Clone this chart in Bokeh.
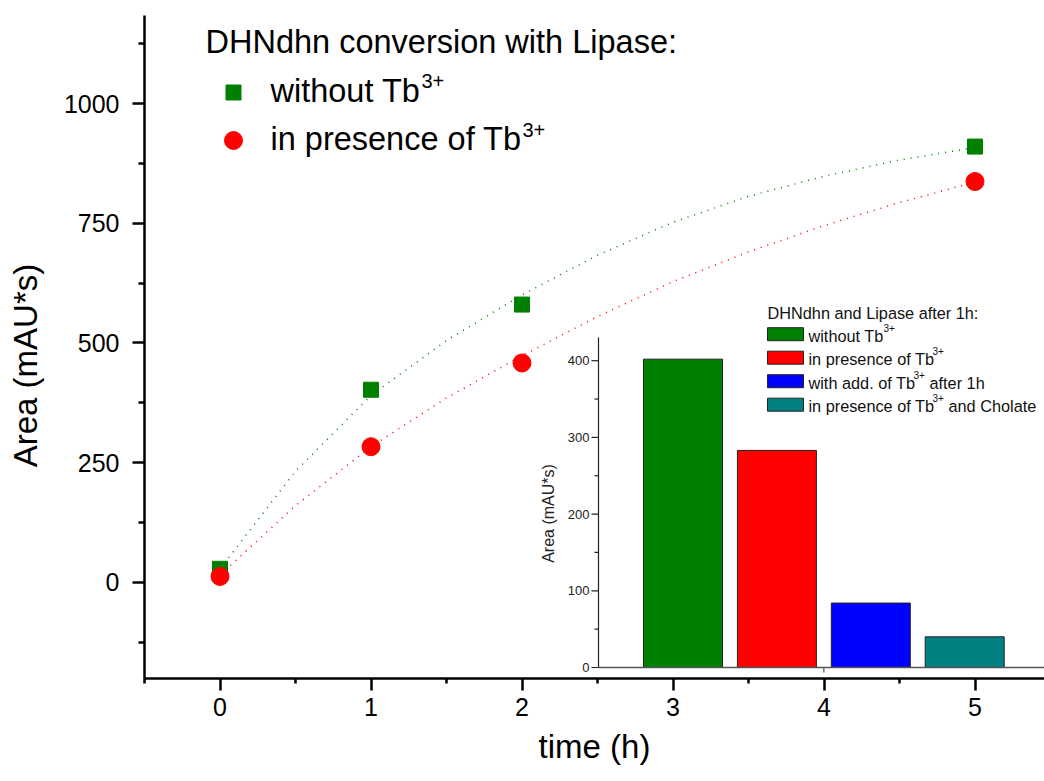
import numpy as np
from bokeh.plotting import figure
from bokeh.models import Range1d, FixedTicker, Label
from bokeh.core.properties import value
from bokeh.embed import file_html
from bokeh.resources import INLINE

# ---------------- data ----------------
time_h = [0, 1, 2, 5]
area_without_tb = [28, 402, 580, 910]
area_with_tb = [12, 283, 458, 837]

fit_time = [0, 0.5, 1, 1.5, 2, 2.5, 3, 3.5, 4, 4.5, 5]
fit_without_tb = [28, 232, 390, 505, 600, 683, 752, 806, 848, 882, 908]
fit_with_tb = [15, 160, 283, 385, 473, 555, 628, 690, 745, 793, 836]

x_ticks = [0, 1, 2, 3, 4, 5]
x_minor_ticks = [-0.5, 0.5, 1.5, 2.5, 3.5, 4.5]
y_ticks = [0, 250, 500, 750, 1000]
y_minor_ticks = [-125, 125, 375, 625, 875, 1125]

inset_positions = [1, 2, 3, 4]
inset_area = [402, 283, 84, 40]
inset_colors = ["#008000", "#FF0000", "#0000FF", "#008080"]
inset_y_ticks = [0, 100, 200, 300, 400]
inset_y_minor_ticks = [50, 150, 250, 350]
inset_labels = ["without Tb", "in presence of Tb", "with add. of Tb", "in presence of Tb"]
inset_label_suffix = ["", "", "after 1h", "and Cholate"]

FONT = "Liberation Sans"
BASE_FIX = 0.34  # em correction for alphabetic baseline placement

# ---------------- layout geometry (pixels) ----------------
W, H = 1044, 781
FL, FR, FT, FB = 144, 1044, 15, 678
PX_PER_X = 151.0
XS = -0.5
XE = XS + (FR - FL) / PX_PER_X
Y0_PX = 581.7
PX_PER_Y = 0.4787
YS = -(FB - Y0_PX) / PX_PER_Y
YE = (Y0_PX - FT) / PX_PER_Y


def mx(px):
    return XS + (px - FL) / PX_PER_X


def my(py, fs=0):
    return (Y0_PX - (py - BASE_FIX * fs)) / PX_PER_Y


# inset geometry
I_LEFT_PX, I_LEFT_VAL, I_PX_PER_X = 598.0, 0.1, 93.9
I_Y0_PX, I_PX_PER_Y = 667.0, 0.767
I_TOP_PX = 337.0


def ix(px):
    return I_LEFT_VAL + (px - I_LEFT_PX) / I_PX_PER_X


def iy(py, fs=0):
    return (I_Y0_PX - (py - BASE_FIX * fs)) / I_PX_PER_Y


p = figure(width=W, height=H, x_range=Range1d(XS, XE), y_range=Range1d(YS, YE),
           output_backend="svg", toolbar_location=None,
           min_border_left=FL, min_border_right=0, min_border_top=FT,
           min_border_bottom=H - FB)
p.outline_line_color = None
p.xgrid.grid_line_color = None
p.ygrid.grid_line_color = None
p.background_fill_color = "white"

p.extra_x_ranges = {"ix": Range1d(ix(FL), ix(FR))}
p.extra_y_ranges = {"iy": Range1d(iy(FB), iy(FT))}

for ax in (p.xaxis[0], p.yaxis[0]):
    ax.axis_line_width = 2.5
    ax.axis_line_color = "black"
    ax.major_tick_line_width = 2.5
    ax.minor_tick_line_width = 2.5
    ax.major_tick_line_color = "black"
    ax.minor_tick_line_color = "black"
    ax.major_tick_in = 0
    ax.minor_tick_in = 0
    ax.major_tick_out = 12
    ax.major_label_text_font = FONT
    ax.major_label_text_font_size = "25px"
    ax.major_label_text_color = "black"
    ax.axis_label_text_font = FONT
    ax.axis_label_text_font_size = "33px"
    ax.axis_label_text_font_style = "normal"
    ax.axis_label_text_color = "black"

p.xaxis.ticker = FixedTicker(ticks=x_ticks, minor_ticks=x_minor_ticks)
p.yaxis.ticker = FixedTicker(ticks=y_ticks, minor_ticks=y_minor_ticks)
p.xaxis.minor_tick_out = 5
p.yaxis.minor_tick_out = 6
p.xaxis.axis_label = "time (h)"
p.xaxis.major_label_standoff = 7
p.yaxis.major_label_standoff = 13
p.xaxis.axis_label_standoff = 9

# y axis title, placed in the left panel (it sits a bit below the frame centre)
p.add_layout(Label(x=2, y=FB - 365, x_units="screen", y_units="screen",
                   text="Area (mAU*s)", angle=np.pi / 2, text_font=FONT,
                   text_font_size="33px", text_color="black",
                   text_align="center", text_baseline="middle"), "left")

# ---------------- main series ----------------
p.line(fit_time, fit_without_tb, line_color="#008000", line_width=1.5, line_dash="1 6")
p.line(fit_time, fit_with_tb, line_color="#FF0000", line_width=1.5, line_dash="1 6")
p.scatter(time_h, area_without_tb, marker="square", size=15, fill_color="#008000", line_color="#008000")
p.scatter(time_h, area_with_tb, marker="circle", size=18, fill_color="#FF0000", line_color="#FF0000")

# ---------------- main legend ----------------
p.text(x=[mx(205)], y=[my(53, 32.5)], text=["DHNdhn conversion with Lipase:"],
       text_font=value(FONT), text_font_size="32.5px", text_color="black",
       text_align="left", text_baseline="alphabetic")
p.scatter([mx(233)], [my(92)], marker="square", size=15, fill_color="#008000", line_color="#008000")
p.scatter([mx(233)], [my(140)], marker="circle", size=18, fill_color="#FF0000", line_color="#FF0000")
p.text(x=[mx(270), mx(270)], y=[my(102, 32.5), my(150, 32.5)], text=["without Tb", "in presence of Tb"],
       text_font=value(FONT), text_font_size="32.5px", text_color="black",
       text_align="left", text_baseline="alphabetic")
p.text(x=[mx(421), mx(522)], y=[my(87, 20), my(136, 20)], text=["3+", "3+"],
       text_font=value(FONT), text_font_size="20px", text_color="black",
       text_align="left", text_baseline="alphabetic")

# ---------------- inset ----------------
R = dict(x_range_name="ix", y_range_name="iy")
p.vbar(x=inset_positions, top=inset_area, bottom=0, width=79 / I_PX_PER_X,
       fill_color=inset_colors, line_color="#222222", line_width=1, **R)
# axes
p.segment(x0=[I_LEFT_VAL], y0=[0], x1=[I_LEFT_VAL], y1=[iy(I_TOP_PX)],
          line_color="#222222", line_width=1.2, **R)
p.segment(x0=[I_LEFT_VAL], y0=[0], x1=[ix(FR) + 1], y1=[0],
          line_color="#555555", line_width=1.5, **R)
p.ray(x=[I_LEFT_VAL] * len(inset_y_ticks), y=inset_y_ticks, length=7, length_units="screen",
      angle=np.pi, line_color="#222222", line_width=1.2, **R)
p.ray(x=[I_LEFT_VAL] * len(inset_y_minor_ticks), y=inset_y_minor_ticks, length=4,
      length_units="screen", angle=np.pi, line_color="#222222", line_width=1.2, **R)
p.ray(x=[2.5], y=[0], length=5, length_units="screen", angle=-np.pi / 2,
      line_color="#555555", line_width=1.2, **R)
p.text(x=[I_LEFT_VAL] * len(inset_y_ticks), y=inset_y_ticks, text=[str(t) for t in inset_y_ticks],
       x_offset=-9, text_font=value(FONT), text_font_size="13px", text_color="#222222",
       text_align="right", text_baseline="middle", **R)
p.text(x=[I_LEFT_VAL], y=[iy(513)], text=["Area (mAU*s)"], angle=np.pi / 2, x_offset=-50,
       text_font=value(FONT), text_font_size="16px", text_color="#222222",
       text_align="center", text_baseline="middle", **R)

# inset legend
FS_I = 16.3
row_base = [340.7, 364.2, 387.7, 411.2]
box_mid = [333.7, 357.2, 380.7, 404.2]
sup_x = [883, 932, 913, 932]
p.text(x=[ix(767)], y=[iy(318.3, FS_I)], text=["DHNdhn and Lipase after 1h:"],
       text_font=value(FONT), text_font_size=f"{FS_I}px", text_color="#111111",
       text_align="left", text_baseline="alphabetic", **R)
p.rect(x=[ix(785)] * 4, y=[iy(b) for b in box_mid], width=36, height=13,
       width_units="screen", height_units="screen", fill_color=inset_colors,
       line_color="#222222", line_width=1, **R)
p.text(x=[ix(808)] * 4, y=[iy(b, FS_I) for b in row_base], text=inset_labels,
       text_font=value(FONT), text_font_size=f"{FS_I}px", text_color="#111111",
       text_align="left", text_baseline="alphabetic", **R)
p.text(x=[ix(sx) for sx in sup_x], y=[iy(b - 10, 10) for b in row_base], text=["3+"] * 4,
       text_font=value(FONT), text_font_size="10px", text_color="#111111",
       text_align="left", text_baseline="alphabetic", **R)
p.text(x=[ix(sx + 16) for sx in sup_x], y=[iy(b, FS_I) for b in row_base], text=inset_label_suffix,
       text_font=value(FONT), text_font_size=f"{FS_I}px", text_color="#111111",
       text_align="left", text_baseline="alphabetic", **R)

open("out.html", "w").write(file_html(p, INLINE))
